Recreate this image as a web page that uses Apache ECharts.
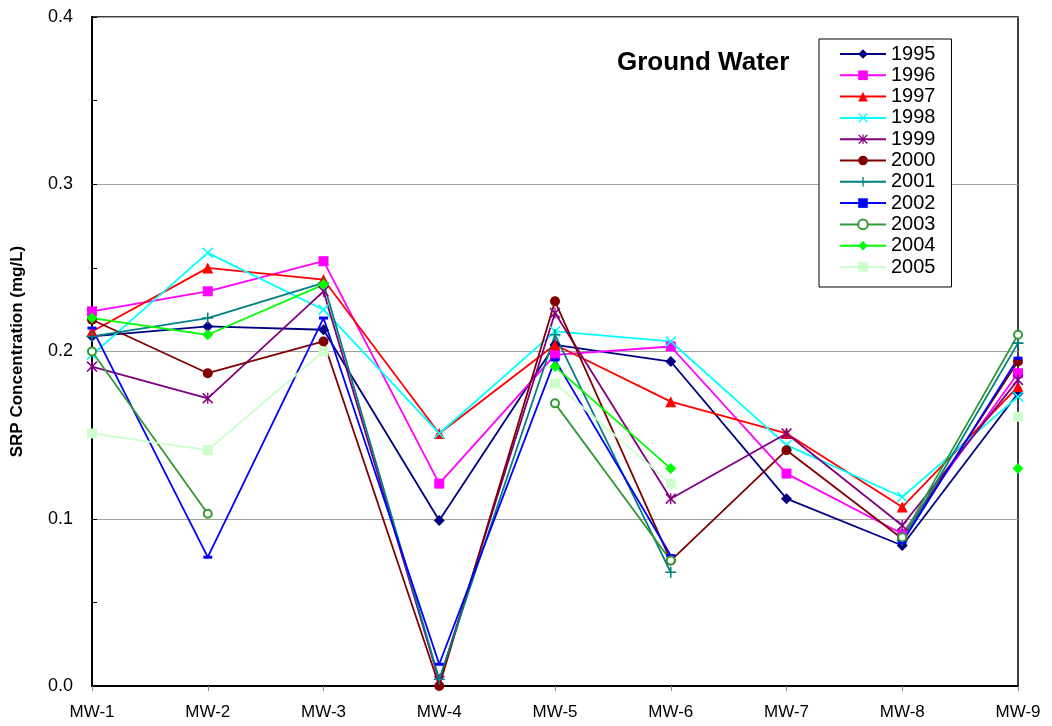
<!DOCTYPE html>
<html>
<head>
<meta charset="utf-8">
<script src="https://cdn.jsdelivr.net/npm/echarts@6/dist/echarts.min.js"></script>
<style>
  html, body { margin: 0; padding: 0; background: #fff; }
  #chart { width: 1052px; height: 726px; }
</style>
</head>
<body>
<div id="chart"></div>
<script>
// categories (wells)
var wells = ['MW-1', 'MW-2', 'MW-3', 'MW-4', 'MW-5', 'MW-6', 'MW-7', 'MW-8', 'MW-9'];
var yTicks = [0, 0.1, 0.2, 0.3, 0.4];

// SRP values per year, null = not sampled
var y1995 = [0.209, 0.215, 0.213, 0.099, 0.204, 0.194, 0.112, 0.084, 0.175];
var y1996 = [0.224, 0.236, 0.254, 0.121, 0.198, 0.203, 0.127, 0.091, 0.187];
var y1997 = [0.212, 0.250, 0.243, 0.151, 0.204, 0.170, 0.151, 0.107, 0.179];
var y1998 = [0.198, 0.259, 0.225, 0.151, 0.212, 0.206, 0.144, 0.113, 0.173];
var y1999 = [0.191, 0.172, 0.236, 0.003, 0.223, 0.112, 0.151, 0.096, 0.183];
var y2000 = [0.219, 0.187, 0.206, 0.000, 0.230, 0.075, 0.141, 0.088, 0.194];
var y2001 = [0.209, 0.220, 0.241, 0.004, 0.210, 0.068, null, 0.087, 0.205];
var y2002 = [0.214, 0.077, 0.220, 0.013, 0.195, 0.078, null, 0.086, 0.196];
var y2003 = [0.200, 0.103, null, null, 0.169, 0.075, null, 0.089, 0.210];
var y2004 = [0.220, 0.210, 0.240, null, 0.191, 0.130, null, null, 0.130];
var y2005 = [0.151, 0.141, 0.200, null, 0.181, 0.121, null, null, 0.161];

var xMark = 'path://M0,1 L1,0 L5,4 L9,0 L10,1 L6,5 L10,9 L9,10 L5,6 L1,10 L0,9 L4,5 Z';
var plusMark = 'path://M4.3,0 H5.7 V4.3 H10 V5.7 H5.7 V10 H4.3 V5.7 H0 V4.3 H4.3 Z';
var starMark = 'path://M0,1 L1,0 L5,4 L9,0 L10,1 L6,5 L10,9 L9,10 L5,6 L1,10 L0,9 L4,5 Z M4.4,0 H5.6 V10 H4.4 Z';

function mk(name, data, color, symbol, size, extra) {
  var s = {
    name: name,
    type: 'line',
    data: data,
    symbol: symbol,
    symbolSize: size,
    connectNulls: false,
    lineStyle: { color: color, width: 1.8 },
    itemStyle: { color: color },
    emphasis: { disabled: true },
    animation: false
  };
  if (extra) {
    for (var k in extra) s[k] = extra[k];
  }
  return s;
}

var series = [
  mk('1995', y1995, '#000080', 'diamond', 11),
  mk('1996', y1996, '#ff00ff', 'rect', 10),
  mk('1997', y1997, '#ff0000', 'triangle', 11),
  mk('1998', y1998, '#00ffff', xMark, 11),
  mk('1999', y1999, '#800080', starMark, 11),
  mk('2000', y2000, '#800000', 'circle', 10),
  mk('2001', y2001, '#008080', plusMark, 11),
  mk('2002', y2002, '#0000ff', 'rect', [9, 3]),
  mk('2003', y2003, '#339933', 'emptyCircle', 8, {
    itemStyle: { color: '#339933', borderColor: '#339933', borderWidth: 1.5 }
  }),
  mk('2004', y2004, '#00ff00', 'diamond', 11),
  mk('2005', y2005, '#ccffcc', 'rect', 10)
];

var chart = echarts.init(document.getElementById('chart'), null, { renderer: 'canvas' });
chart.setOption({
  backgroundColor: '#fff',
  animation: false,
  textStyle: { fontFamily: 'Arial, "Liberation Sans", sans-serif' },
  grid: {
    left: 92, top: 17, right: 34, bottom: 40,
    show: true, borderColor: '#000', borderWidth: 1.5
  },
  graphic: [{
    type: 'text',
    left: 617, top: 50,
    style: {
      text: 'Ground Water',
      fontSize: 26, fontWeight: 'bold',
      fontFamily: 'Arial, "Liberation Sans", sans-serif',
      fill: '#000'
    }
  }],
  legend: {
    orient: 'vertical',
    left: 819, top: 39,
    padding: [5, 16, 10, 20],
    itemGap: 1.3,
    itemWidth: 46,
    itemHeight: 12,
    backgroundColor: '#fff',
    borderColor: '#000',
    borderWidth: 1,
    textStyle: { fontSize: 20, color: '#000', lineHeight: 20 },
    data: series.map(function (s) { return s.name; })
  },
  xAxis: {
    type: 'category',
    data: wells,
    boundaryGap: false,
    axisLine: { lineStyle: { color: '#000', width: 2 } },
    axisTick: { show: true, inside: false, length: 5, lineStyle: { color: '#888' } },
    axisLabel: { fontSize: 17, color: '#000', margin: 18 },
    splitLine: { show: false }
  },
  yAxis: {
    type: 'value',
    min: yTicks[0],
    max: yTicks[yTicks.length - 1],
    interval: 0.1,
    name: 'SRP Concentration (mg/L)',
    nameLocation: 'middle',
    nameGap: 66,
    nameTextStyle: { fontSize: 17, fontWeight: 'bold', color: '#000' },
    axisLine: { show: true, lineStyle: { color: '#000', width: 2 } },
    axisTick: { show: true, inside: true, length: 5, lineStyle: { color: '#000' } },
    minorTick: { show: true, splitNumber: 2, length: 5, lineStyle: { color: '#000' } },
    axisLabel: {
      fontSize: 18, color: '#000', margin: 19,
      formatter: function (v) { return v.toFixed(1); }
    },
    splitLine: { show: true, lineStyle: { color: '#a0a0a0', width: 1 } }
  },
  series: series
});
</script>
</body>
</html>
